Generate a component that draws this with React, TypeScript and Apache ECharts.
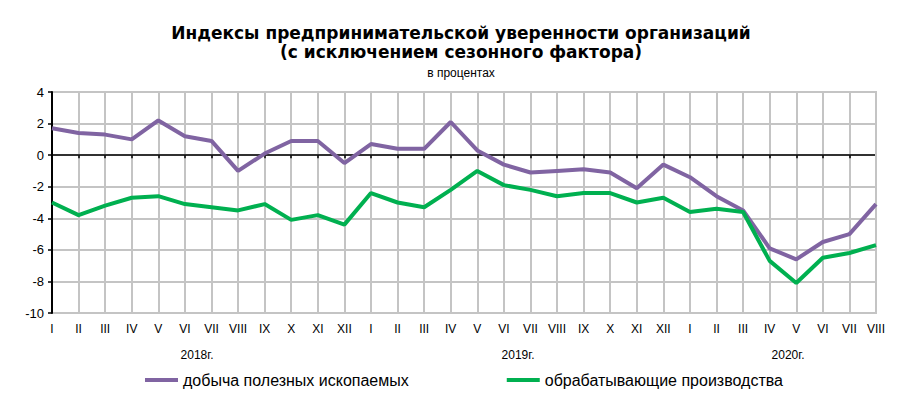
import React, { useEffect, useRef } from "react";
import * as echarts from "echarts";

const months = ["I","II","III","IV","V","VI","VII","VIII","IX","X","XI","XII",
  "I","II","III","IV","V","VI","VII","VIII","IX","X","XI","XII",
  "I","II","III","IV","V","VI","VII","VIII"];
const categories = months.map((m, i) => m + "|" + i);

const mining = [1.7, 1.4, 1.3, 1.0, 2.2, 1.2, 0.9, -1.0, 0.1, 0.9, 0.9, -0.5,
  0.7, 0.4, 0.4, 2.1, 0.3, -0.6, -1.1, -1.0, -0.9, -1.1, -2.1, -0.6,
  -1.4, -2.6, -3.5, -5.9, -6.6, -5.5, -5.0, -3.1];
const manufacturing = [-3.0, -3.8, -3.2, -2.7, -2.6, -3.1, -3.3, -3.5, -3.1, -4.1, -3.8, -4.4,
  -2.4, -3.0, -3.3, -2.2, -1.0, -1.9, -2.2, -2.6, -2.4, -2.4, -3.0, -2.7,
  -3.6, -3.4, -3.6, -6.7, -8.1, -6.5, -6.2, -5.7];

const seriesNames = ["добыча полезных ископаемых", "обрабатывающие производства"];
const seriesColors = ["#8064A2", "#00B050"];
const years = ["2018г.", "2019г.", "2020г."];

const FONT = "'Liberation Sans', Arial, sans-serif";
const TITLE_FONT = "'DejaVu Sans', 'Liberation Sans', sans-serif";

export default function App() {
  const ref = useRef<HTMLDivElement>(null);
  useEffect(() => {
    if (!ref.current) return;
    const chart = echarts.init(ref.current, undefined, { renderer: "svg" });
    chart.setOption({
      animation: false,
      backgroundColor: "#ffffff",
      title: [
        {
          text: "Индексы предпринимательской уверенности организаций\n(с исключением сезонного фактора)",
          left: "center",
          top: 18,
          textStyle: { fontFamily: TITLE_FONT, fontWeight: "bold", fontSize: 17, color: "#000", lineHeight: 19 },
        },
        {
          text: "в процентах",
          left: "center",
          top: 62,
          textStyle: { fontFamily: FONT, fontWeight: "normal", fontSize: 12, color: "#000" },
        },
      ],
      legend: {
        bottom: 4,
        left: 140,
        itemGap: 98,
        itemWidth: 33,
        itemHeight: 4,
        icon: "rect",
        textStyle: { fontFamily: FONT, fontSize: 16, color: "#000" },
        data: seriesNames,
      },
      grid: { left: 52, right: 46, top: 92, bottom: 84 },
      xAxis: [
        {
          type: "category",
          data: categories,
          boundaryGap: false,
          position: "bottom",
          axisLine: { show: false, onZero: false },
          axisTick: { show: false },
          axisLabel: {
            interval: 0,
            margin: 10,
            fontFamily: FONT,
            fontSize: 12,
            color: "#000",
            formatter: (v: string) => v.split("|")[0],
          },
          splitLine: { show: true, lineStyle: { color: "#c4c4c4", width: 2 } },
        },
        {
          type: "category",
          data: categories,
          boundaryGap: false,
          position: "bottom",
          axisLine: { show: true, onZero: true, lineStyle: { color: "#000", width: 1.5 } },
          axisTick: { show: true, interval: 0, length: 3, lineStyle: { color: "#000", width: 1.5 } },
          axisLabel: { show: false },
          splitLine: { show: false },
        },
      ],
      yAxis: {
        type: "value",
        min: -10,
        max: 4,
        interval: 2,
        axisLine: { show: true, lineStyle: { color: "#000", width: 2 } },
        axisTick: { show: true, length: 4, lineStyle: { color: "#000", width: 1.5 } },
        axisLabel: { fontFamily: FONT, fontSize: 13, color: "#000", margin: 8 },
        splitLine: { show: true, lineStyle: { color: "#c4c4c4", width: 2 } },
      },
      graphic: [
        { type: "rect", shape: { x: 875, y: 91, width: 2, height: 223 }, style: { fill: "#c4c4c4" }, z: 1 },
        { type: "text", x: 197, y: 355, style: { text: years[0], font: `12px ${FONT}`, fill: "#000", textAlign: "center", textVerticalAlign: "middle" } },
        { type: "text", x: 518, y: 355, style: { text: years[1], font: `12px ${FONT}`, fill: "#000", textAlign: "center", textVerticalAlign: "middle" } },
        { type: "text", x: 788, y: 355, style: { text: years[2], font: `12px ${FONT}`, fill: "#000", textAlign: "center", textVerticalAlign: "middle" } },
      ],
      series: [
        {
          name: seriesNames[0],
          type: "line",
          data: mining,
          symbol: "none",
          color: seriesColors[0],
          lineStyle: { width: 4, color: seriesColors[0] },
          z: 3,
        },
        {
          name: seriesNames[1],
          type: "line",
          data: manufacturing,
          symbol: "none",
          color: seriesColors[1],
          lineStyle: { width: 4, color: seriesColors[1] },
          z: 4,
        },
      ],
    });
    return () => chart.dispose();
  }, []);
  return <div ref={ref} style={{ width: 922, height: 397, position: "absolute", left: 0, top: 0 }} />;
}
